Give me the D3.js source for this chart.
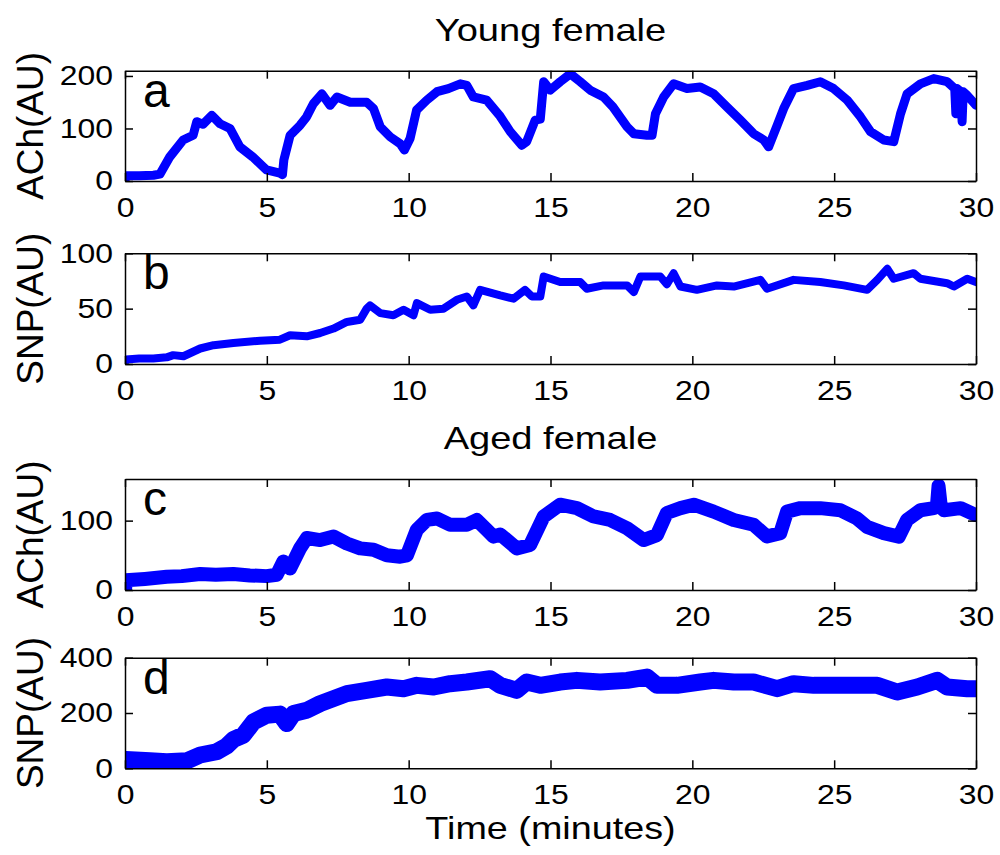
<!DOCTYPE html>
<html>
<head>
<meta charset="utf-8">
<script src="https://cdn.jsdelivr.net/npm/d3@7"></script>
<style>
	body { margin: 0; background: #fff; }
	svg text { font-family: "Liberation Sans", Arial, sans-serif; fill: #000; }
	.axis path, .axis line { stroke: #000; stroke-width: 1.5; }
</style>
</head>
<body>
<svg width="1000" height="855"></svg>
<script>
// time in minutes, values in AU
var timeA = [0, 0.03, 0.5, 1.0, 1.23, 1.58, 2.05, 2.4, 2.53, 2.75, 3.06, 3.35, 3.7, 4.05, 4.5, 4.99, 5.46, 5.55, 5.6, 5.82, 6.17, 6.4, 6.64, 6.94, 7.23, 7.47, 7.94, 8.52, 8.76, 9.0, 9.35, 9.7, 9.85, 10.05, 10.28, 10.64, 11.0, 11.4, 11.82, 12.05, 12.28, 12.75, 13.2, 13.58, 13.99, 14.16, 14.46, 14.64, 14.76, 14.99, 15.34, 15.7, 16.05, 16.4, 16.87, 17.2, 17.7, 17.94, 18.4, 18.58, 18.7, 18.99, 19.34, 19.81, 20.28, 20.75, 21.22, 21.69, 22.16, 22.52, 22.69, 22.99, 23.22, 23.57, 24.05, 24.51, 24.98, 25.46, 25.93, 26.28, 26.75, 27.1, 27.34, 27.57, 28.04, 28.51, 28.98, 29.25, 29.29, 29.33, 29.47, 29.51, 29.55, 29.69, 30]
var achYoung = [0, 10, 10, 11, 13, 46, 78, 87, 113, 108, 125, 109, 100, 65, 46, 21, 15, 12, 40, 87, 106, 122, 147, 166, 144, 160, 150, 150, 138, 103, 84, 71, 59, 81, 135, 154, 170, 176, 185, 182, 160, 154, 125, 94, 68, 75, 116, 118, 189, 173, 189, 204, 189, 173, 160, 141, 103, 90, 87, 87, 128, 160, 185, 176, 179, 166, 141, 116, 90, 78, 65, 106, 138, 176, 182, 189, 176, 154, 122, 94, 78, 75, 128, 166, 185, 195, 189, 176, 128, 176, 170, 113, 170, 163, 144]

var timeB = [0, 0.03, 0.5, 1.0, 1.47, 1.7, 2.06, 2.65, 3.12, 3.82, 4.76, 5.46, 5.82, 6.41, 6.88, 7.35, 7.82, 8.29, 8.52, 8.64, 9.0, 9.46, 9.82, 10.17, 10.29, 10.76, 11.23, 11.7, 12.05, 12.28, 12.52, 13.23, 13.7, 14.1, 14.34, 14.64, 14.76, 15.34, 16.05, 16.28, 16.87, 17.7, 17.94, 18.17, 18.87, 19.1, 19.34, 19.58, 20.16, 20.87, 21.46, 22.4, 22.63, 23.57, 24.51, 25.34, 26.16, 26.52, 26.87, 27.1, 27.8, 28.04, 28.98, 29.22, 29.69, 30]
var snpYoung = [0, 4, 5, 5, 6, 8, 7, 14, 17, 19, 21, 22, 26, 25, 28, 32, 38, 40, 50, 53, 46, 44, 49, 44, 55, 49, 50, 58, 61, 53, 67, 62, 59, 67, 61, 61, 79, 74, 74, 68, 71, 71, 65, 79, 79, 72, 82, 70, 67, 71, 70, 76, 68, 76, 74, 71, 67, 76, 86, 77, 82, 77, 73, 70, 77, 74]

var timeC = [0, 0.03, 0.7, 1.47, 2.0, 2.65, 3.2, 3.82, 4.4, 5.0, 5.35, 5.58, 5.82, 6.17, 6.41, 6.88, 7.35, 7.82, 8.29, 8.76, 9.23, 9.7, 9.94, 10.29, 10.64, 11.0, 11.46, 12.05, 12.4, 12.75, 12.99, 13.23, 13.81, 14.28, 14.76, 15.34, 15.93, 16.52, 17.1, 17.7, 18.28, 18.75, 19.1, 19.58, 20.05, 20.75, 21.46, 22.16, 22.63, 23.1, 23.34, 23.81, 24.51, 25.22, 25.81, 26.16, 26.75, 27.28, 27.57, 28.04, 28.51, 28.62, 28.68, 28.76, 28.87, 29.46, 30]
var achAged = [0, 14, 16, 19, 20, 23, 22, 23, 21, 20, 22, 41, 31, 60, 75, 72, 77, 67, 60, 58, 50, 48, 50, 87, 101, 103, 94, 94, 101, 87, 77, 80, 60, 65, 106, 123, 118, 106, 101, 89, 72, 79, 111, 118, 123, 113, 101, 94, 77, 82, 113, 118, 118, 115, 103, 91, 82, 77, 101, 115, 118, 120, 150, 120, 115, 118, 108]

var timeD = [0, 0.03, 0.88, 1.47, 2.18, 2.65, 3.23, 3.58, 3.82, 4.17, 4.53, 5.0, 5.46, 5.7, 5.94, 6.41, 6.88, 7.35, 7.82, 8.52, 9.23, 9.82, 10.29, 10.88, 11.46, 12.05, 12.87, 13.23, 13.81, 14.16, 14.64, 15.34, 15.93, 16.75, 17.7, 18.4, 18.75, 19.46, 20.28, 20.75, 21.46, 22.16, 22.99, 23.57, 24.28, 24.98, 25.69, 26.52, 27.22, 27.93, 28.63, 28.98, 29.69, 30]
var snpAged = [0, 32, 27, 24, 27, 48, 60, 80, 104, 120, 168, 192, 196, 162, 198, 210, 234, 252, 270, 282, 294, 288, 300, 294, 306, 312, 324, 300, 282, 312, 300, 312, 318, 312, 318, 330, 300, 300, 312, 318, 312, 312, 288, 306, 300, 300, 300, 300, 276, 294, 318, 294, 288, 288]

var xTicks = [0, 5, 10, 15, 20, 25, 30]

var panels = [
	{time: timeA, vals: achYoung, yMax: 210, yTicks: [0, 100, 200], letter: "a", ylabel: "ACh(AU)", top: 70.7, bottom: 181, lw: 9, title: "Young female"},
	{time: timeB, vals: snpYoung, yMax: 100, yTicks: [0, 50, 100], letter: "b", ylabel: "SNP(AU)", top: 253.3, bottom: 364, lw: 8},
	{time: timeC, vals: achAged, yMax: 160, yTicks: [0, 100], letter: "c", ylabel: "ACh(AU)", top: 479, bottom: 590, lw: 14, title: "Aged female"},
	{time: timeD, vals: snpAged, yMax: 400, yTicks: [0, 200, 400], letter: "d", ylabel: "SNP(AU)", top: 657.7, bottom: 768.3, lw: 17}
]

var left = 125, right = 976
var svg = d3.select("svg")
var x = d3.scaleLinear().domain([0, 30]).range([left, right])

panels.forEach(function(p, i){
	var y = d3.scaleLinear().domain([0, p.yMax]).range([p.bottom, p.top])
	var g = svg.append("g")

	g.append("clipPath").attr("id", "clip" + i)
		.append("rect")
			.attr("x", left).attr("y", p.top)
			.attr("width", right - left).attr("height", p.bottom - p.top)

	var line = d3.line()
		.x(function(d){ return x(d[0]) })
		.y(function(d){ return y(d[1]) })

	g.append("path")
		.datum(p.time.map(function(t, k){ return [t, p.vals[k]] }))
		.attr("clip-path", "url(#clip" + i + ")")
		.attr("d", line)
		.attr("fill", "none")
		.attr("stroke", "#0000ff")
		.attr("stroke-width", p.lw)
		.attr("stroke-linejoin", "round")
		.attr("stroke-linecap", "round")

	// box with inward ticks on all four sides
	var bottomAxis = g.append("g").attr("class", "axis")
		.attr("transform", "translate(0," + p.bottom + ")")
		.call(d3.axisBottom(x).tickValues(xTicks).tickSizeInner(-8).tickSizeOuter(0).tickPadding(16))
	g.append("g").attr("class", "axis")
		.attr("transform", "translate(0," + p.top + ")")
		.call(d3.axisTop(x).tickValues(xTicks).tickSizeInner(-8).tickSizeOuter(0).tickFormat(""))
	var leftAxis = g.append("g").attr("class", "axis")
		.attr("transform", "translate(" + left + ",0)")
		.call(d3.axisLeft(y).tickValues(p.yTicks).tickSizeInner(-8).tickSizeOuter(0))
	g.append("g").attr("class", "axis")
		.attr("transform", "translate(" + right + ",0)")
		.call(d3.axisRight(y).tickValues(p.yTicks).tickSizeInner(-8).tickSizeOuter(0).tickFormat(""))

	bottomAxis.selectAll("text")
		.attr("font-size", 28)
		.attr("transform", "scale(1.14,1)")
	leftAxis.selectAll("text")
		.attr("font-size", 28)
		.attr("x", -12 / 1.14)
		.attr("transform", "scale(1.14,1)")
	g.selectAll(".axis text").attr("font-family", null)

	g.append("text")
		.attr("x", left + 18)
		.attr("y", p.top + 36)
		.attr("font-size", 48)
		.text(p.letter)

	g.append("text")
		.attr("transform", "translate(43," + (p.top + p.bottom) / 2 + ") rotate(-90)")
		.attr("text-anchor", "middle")
		.attr("font-size", 37)
		.text(p.ylabel)

	if (p.title) {
		g.append("text")
			.attr("transform", "translate(" + (left + right) / 2 + "," + (p.top - 30) + ") scale(1.19,1)")
			.attr("text-anchor", "middle")
			.attr("font-size", 32)
			.text(p.title)
	}
})

svg.append("text")
	.attr("transform", "translate(" + (left + right) / 2 + ",839) scale(1.18,1)")
	.attr("text-anchor", "middle")
	.attr("font-size", 32)
	.text("Time (minutes)")
</script>
</body>
</html>
